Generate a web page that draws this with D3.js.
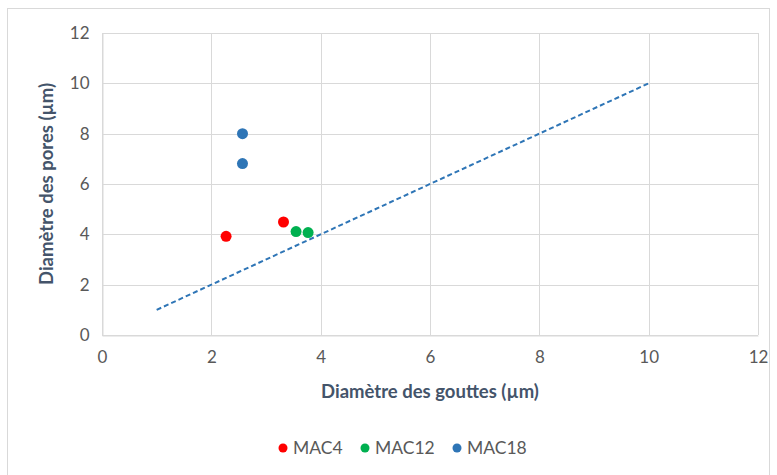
<!DOCTYPE html>
<html><head><meta charset="utf-8">
<script src="https://cdn.jsdelivr.net/npm/d3@7"></script>
<style>body{margin:0;background:#fff;} text{font-family:Lato, "Open Sans", sans-serif;}</style>
</head><body>
<svg id="c" width="777" height="475"></svg>
<script>
const seriesNames = ["MAC4", "MAC12", "MAC18"];
const seriesColors = ["#FF0000", "#00B050", "#2E75B6"];
const mac4X = [2.27, 3.32];
const mac4Y = [3.92, 4.49];
const mac12X = [3.55, 3.77];
const mac12Y = [4.11, 4.07];
const mac18X = [2.57, 2.57];
const mac18Y = [8.0, 6.81];
const refLineX = [1, 10];
const refLineY = [1, 10];
const xTicks = [0, 2, 4, 6, 8, 10, 12];
const yTicks = [0, 2, 4, 6, 8, 10, 12];
const xTitle = "Diamètre des gouttes (µm)";
const yTitle = "Diamètre des pores (µm)";

const svg = d3.select("#c");
svg.append("rect").attr("x", 7.5).attr("y", 8.5).attr("width", 762).attr("height", 470)
  .attr("fill", "#fff").attr("stroke", "#D9D9D9");

const x = d3.scaleLinear().domain([0, 12]).range([102, 758]);
const y = d3.scaleLinear().domain([0, 12]).range([335, 33]);

// gridlines
svg.append("g").selectAll("line.h").data(yTicks).join("line")
  .attr("x1", x(0)).attr("x2", x(12)).attr("y1", d => Math.round(y(d)) + 0.5).attr("y2", d => Math.round(y(d)) + 0.5)
  .attr("stroke", "#D9D9D9");
svg.append("g").selectAll("line.v").data(xTicks).join("line")
  .attr("y1", y(0)).attr("y2", y(12)).attr("x1", d => Math.round(x(d)) + 0.5).attr("x2", d => Math.round(x(d)) + 0.5)
  .attr("stroke", "#D9D9D9");

// axes via d3
const xAxis = svg.append("g").attr("transform", `translate(0,${Math.round(y(0)) + 0.5})`)
  .call(d3.axisBottom(x).tickValues(xTicks).tickSize(0).tickPadding(15));
const yAxis = svg.append("g").attr("transform", `translate(${Math.round(x(0)) + 0.5},0)`)
  .call(d3.axisLeft(y).tickValues(yTicks).tickSize(0).tickPadding(13));
[xAxis, yAxis].forEach(a => {
  a.select(".domain").attr("stroke", "#D9D9D9");
  a.selectAll("text").attr("fill", "#595959").attr("font-size", 17).attr("font-family", "Lato, 'Open Sans', sans-serif");
});

// titles
svg.append("text").attr("x", 430).attr("y", 398).attr("text-anchor", "middle")
  .attr("font-size", 18.5).attr("font-weight", "bold").attr("fill", "#44546A").text(xTitle);
svg.append("text").attr("transform", "translate(53,184) rotate(-90)").attr("text-anchor", "middle")
  .attr("font-size", 18.5).attr("font-weight", "bold").attr("fill", "#44546A").text(yTitle);

// reference line
const line = d3.line().x(d => x(d[0])).y(d => y(d[1]));
svg.append("path").datum(d3.zip(refLineX, refLineY)).attr("d", line)
  .attr("fill", "none").attr("stroke", "#2E75B6").attr("stroke-width", 2).attr("stroke-dasharray", "5,3");

// points
const series = [d3.zip(mac4X, mac4Y), d3.zip(mac12X, mac12Y), d3.zip(mac18X, mac18Y)];
series.forEach((pts, i) => {
  svg.append("g").selectAll("circle").data(pts).join("circle")
    .attr("cx", d => x(d[0])).attr("cy", d => y(d[1])).attr("r", 5.5).attr("fill", seriesColors[i]);
});

// legend
const legX = [283, 365, 457];
const leg = svg.append("g");
seriesNames.forEach((n, i) => {
  leg.append("circle").attr("cx", legX[i]).attr("cy", 448).attr("r", 4.5).attr("fill", seriesColors[i]);
  leg.append("text").attr("x", legX[i] + 10).attr("y", 454).attr("font-size", 17.5).attr("fill", "#595959").text(n);
});
</script>
</body></html>
